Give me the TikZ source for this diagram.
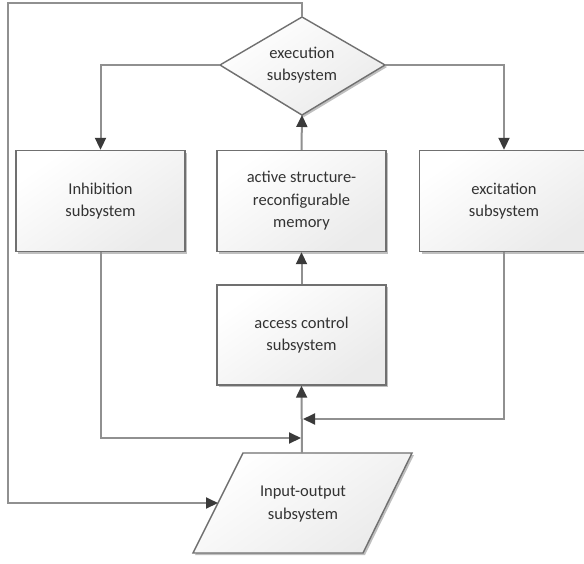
\documentclass[tikz,border=0pt]{standalone}
\usepackage{fontspec}
\setmainfont{Carlito}
\usetikzlibrary{arrows.meta,shadows,calc}
\definecolor{txt}{HTML}{333333}
\definecolor{edge}{HTML}{707070}
\definecolor{wire}{HTML}{909090}
\definecolor{tipc}{HTML}{3A3A3A}
\tikzset{
  blk/.style={draw=edge, line width=1.4pt, rectangle, minimum width=169pt, minimum height=101pt,
    inner sep=0pt, align=center, text=txt, font=\fontsize{16.5}{22.5}\selectfont,
    top color=white, bottom color=black!8, shading angle=35,
    drop shadow={shadow xshift=2pt, shadow yshift=-2pt, opacity=0.25, fill=black}},
  lbl/.style={inner sep=0pt, align=center, text=txt, font=\fontsize{16.5}{22.5}\selectfont},
  shp/.style={draw=edge, line width=1.4pt, line join=miter,
    top color=white, bottom color=black!8, shading angle=35,
    drop shadow={shadow xshift=2pt, shadow yshift=-2pt, opacity=0.25, fill=black}},
  conn/.style={draw=wire, line width=2pt, -{Triangle[length=12pt,width=11pt,fill=tipc,color=tipc]}}
}
\begin{document}
\begin{tikzpicture}[x=1pt,y=-1pt]
\useasboundingbox (0,0) rectangle (584,563);
\fill[white] (0,0) rectangle (584,563);
% diamond vertices
\coordinate (eT) at (302,17);
\coordinate (eL) at (220,65);
\coordinate (eR) at (385,65);
\coordinate (eB) at (302,115);
\path[shp] (eT) -- (eR) -- (eB) -- (eL) -- cycle;
\node[lbl] (exec) at (302,65) {execution\\subsystem};
% boxes
\node[blk] (inh) at (100.5,201) {Inhibition\\subsystem};
\node[blk] (act) at (301.5,201) {active structure-\\reconfigurable\\memory};
\node[blk] (exc) at (504,201) {excitation\\subsystem};
\node[blk, minimum height=100pt] (acc) at (301.5,335) {access control\\subsystem};
% parallelogram
\coordinate (pTL) at (243,453);
\coordinate (pTR) at (412,453);
\coordinate (pBR) at (363,553);
\coordinate (pBL) at (193,553);
\path[shp] (pTL) -- (pTR) -- (pBR) -- (pBL) -- cycle;
\node[lbl] (io) at (303,504) {Input-output\\subsystem};
\coordinate (ioT) at (302,453);
\coordinate (ioL) at (218,503);
% connectors
\draw[conn] (eL) -| (inh.north);
\draw[conn] (eR) -| (exc.north);
\draw[conn] (act.north) -- (eB);
\draw[conn] (acc.north) -- (act.south);
\draw[conn] (ioT) -- (acc.south);
\coordinate (jL) at (301,438);
\coordinate (jR) at (303,419);
\draw[conn] (inh.south) |- (jL);
\draw[conn] (exc.south) |- (jR);
\coordinate (lp1) at (302,3);
\coordinate (lp2) at (8,3);
\coordinate (lp3) at (8,503);
\draw[conn] (eT) -- (lp1) -- (lp2) -- (lp3) -- (ioL);
\end{tikzpicture}
\end{document}
